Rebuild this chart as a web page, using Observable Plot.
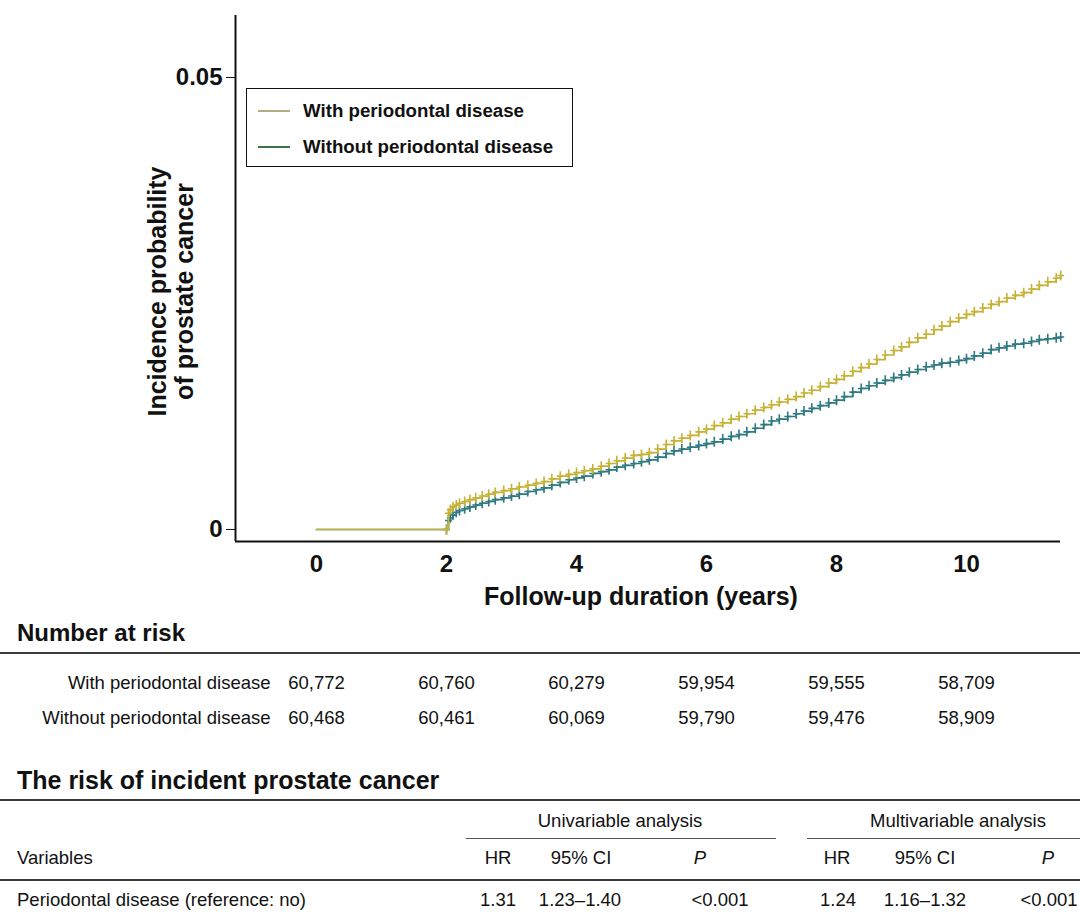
<!DOCTYPE html>
<html>
<head>
<meta charset="utf-8">
<script src="https://cdn.jsdelivr.net/npm/d3@7"></script>
<script src="https://cdn.jsdelivr.net/npm/@observablehq/plot@0.6"></script>
<style>
  html, body { margin: 0; padding: 0; background: #fff; }
  #wrap { position: relative; width: 1080px; height: 916px; overflow: hidden; font-family: "Liberation Sans", Arial, Helvetica, sans-serif; color: #111; }
  #main, #risk { position: absolute; left: 0; }
  #main { top: 0; }
  #risk { top: 660px; }
  .abs { position: absolute; white-space: nowrap; }
  .h2 { font-weight: bold; font-size: 24px; line-height: 24px; left: 17px; }
  .rule { position: absolute; left: 0; width: 1080px; height: 2px; background: #3a3a3a; }
  .thin { position: absolute; height: 1px; background: #555; }
  .cell { font-size: 18.5px; line-height: 22px; }
  .c { transform: translateX(-50%); }
  #legend { position: absolute; left: 246px; top: 88px; width: 325px; height: 77px; border: 1.6px solid #111; background: #fff; }
  #legend .row { position: absolute; left: 0; height: 22px; }
  #legend .sw { position: absolute; left: 11px; width: 32px; height: 2px; top: 10px; }
  #legend .lab { position: absolute; left: 56px; top: 0; font-weight: bold; font-size: 18.7px; line-height: 22px; white-space: nowrap; }
</style>
</head>
<body>
<div id="wrap">
  <div id="main"></div>
  <div id="legend"></div>
  <div id="riskTitle" class="abs h2" style="top:621px">Number at risk</div>
  <div class="rule" style="top:652px"></div>
  <div id="risk"></div>
  <div id="hrTitle" class="abs h2" style="top:768px; font-size:25px; line-height:25px">The risk of incident prostate cancer</div>
  <div class="rule" style="top:799px"></div>
  <div id="hr"></div>
</div>
<script>
// ---------------- data ----------------
const seriesNames = ["With periodontal disease", "Without periodontal disease"];
const curveColors = ["#c6b236", "#2f7a80"];
const legendColors = ["#b3ad84", "#3d7246"];

const withTimes = [0, 2.00, 2.03, 2.06, 2.10, 2.15, 2.20, 2.28, 2.36, 2.45, 2.55, 2.65, 2.75, 2.88, 3.00, 3.12, 3.25, 3.38, 3.50, 3.62, 3.75, 3.88, 4.00, 4.12, 4.25, 4.38, 4.50, 4.62, 4.75, 4.88, 5.00, 5.12, 5.25, 5.38, 5.50, 5.62, 5.75, 5.88, 6.00, 6.12, 6.25, 6.38, 6.50, 6.62, 6.75, 6.88, 7.00, 7.12, 7.25, 7.38, 7.50, 7.62, 7.75, 7.88, 8.00, 8.12, 8.25, 8.38, 8.50, 8.62, 8.75, 8.88, 9.00, 9.12, 9.25, 9.38, 9.50, 9.62, 9.75, 9.88, 10.00, 10.12, 10.25, 10.38, 10.50, 10.62, 10.75, 10.88, 11.00, 11.12, 11.25, 11.38, 11.45];
const withValues = [0, 0, 0.0018, 0.0022, 0.0025, 0.0027, 0.0029, 0.0031, 0.0033, 0.0035, 0.0037, 0.0039, 0.0041, 0.0043, 0.0045, 0.0047, 0.0049, 0.0051, 0.0053, 0.0056, 0.0059, 0.0061, 0.0063, 0.0065, 0.0067, 0.0070, 0.0073, 0.0076, 0.0079, 0.0082, 0.0083, 0.0085, 0.0089, 0.0094, 0.0098, 0.0101, 0.0104, 0.0108, 0.0111, 0.0115, 0.0118, 0.0122, 0.0125, 0.0128, 0.0132, 0.0135, 0.0138, 0.0141, 0.0144, 0.0147, 0.0151, 0.0154, 0.0158, 0.0162, 0.0166, 0.0170, 0.0175, 0.0179, 0.0183, 0.0188, 0.0193, 0.0198, 0.0202, 0.0207, 0.0212, 0.0216, 0.0221, 0.0225, 0.0230, 0.0234, 0.0238, 0.0241, 0.0245, 0.0249, 0.0252, 0.0256, 0.0259, 0.0262, 0.0266, 0.0270, 0.0274, 0.0278, 0.0281];

const withoutTimes = [0, 2.00, 2.03, 2.06, 2.10, 2.15, 2.20, 2.28, 2.36, 2.45, 2.55, 2.65, 2.75, 2.88, 3.00, 3.12, 3.25, 3.38, 3.50, 3.62, 3.75, 3.88, 4.00, 4.12, 4.25, 4.38, 4.50, 4.62, 4.75, 4.88, 5.00, 5.12, 5.25, 5.38, 5.50, 5.62, 5.75, 5.88, 6.00, 6.12, 6.25, 6.38, 6.50, 6.62, 6.75, 6.88, 7.00, 7.12, 7.25, 7.38, 7.50, 7.62, 7.75, 7.88, 8.00, 8.12, 8.25, 8.38, 8.50, 8.62, 8.75, 8.88, 9.00, 9.12, 9.25, 9.38, 9.50, 9.62, 9.75, 9.88, 10.00, 10.12, 10.25, 10.38, 10.50, 10.62, 10.75, 10.88, 11.00, 11.12, 11.25, 11.38, 11.45];
const withoutValues = [0, 0, 0.0010, 0.0013, 0.0016, 0.0019, 0.0021, 0.0023, 0.0025, 0.0027, 0.0029, 0.0031, 0.0033, 0.0035, 0.0037, 0.0039, 0.0042, 0.0044, 0.0046, 0.0049, 0.0052, 0.0055, 0.0057, 0.0059, 0.0062, 0.0064, 0.0066, 0.0069, 0.0071, 0.0073, 0.0075, 0.0077, 0.0080, 0.0084, 0.0087, 0.0089, 0.0091, 0.0093, 0.0095, 0.0097, 0.0100, 0.0103, 0.0105, 0.0108, 0.0112, 0.0116, 0.0120, 0.0122, 0.0125, 0.0128, 0.0131, 0.0134, 0.0137, 0.0140, 0.0143, 0.0147, 0.0152, 0.0156, 0.0159, 0.0162, 0.0165, 0.0168, 0.0171, 0.0174, 0.0177, 0.0180, 0.0182, 0.0184, 0.0185, 0.0187, 0.0189, 0.0192, 0.0195, 0.0199, 0.0201, 0.0203, 0.0205, 0.0206, 0.0208, 0.0210, 0.0211, 0.0212, 0.0213];

const xTicks = [0, 2, 4, 6, 8, 10];
const yTicks = [0, 0.05];
const yTickLabels = ["0", "0.05"];
const xLabel = "Follow-up duration (years)";
const yLabel = "Incidence probability\nof prostate cancer";

const riskTimes = [0, 2, 4, 6, 8, 10];
const riskWith = ["60,772", "60,760", "60,279", "59,954", "59,555", "58,709"];
const riskWithout = ["60,468", "60,461", "60,069", "59,790", "59,476", "58,909"];

const hrGroups = ["Univariable analysis", "Multivariable analysis"];
const hrHeaders = ["Variables", "HR", "95% CI", "P", "HR", "95% CI", "P"];
const hrRow = ["Periodontal disease (reference: no)", "1.31", "1.23\u20131.40", "<0.001", "1.24", "1.16\u20131.32", "<0.001"];

// ---------------- build ----------------
const font = '"Liberation Sans", Arial, Helvetica, sans-serif';
const xDomain = [-1.246, 11.446];
const yDomain = [-0.00133, 0.05686];

const curveData = [
  ...withTimes.map((t, i) => ({t, v: withValues[i], s: seriesNames[0]})),
  ...withoutTimes.map((t, i) => ({t, v: withoutValues[i], s: seriesNames[1]}))
];
const censorData = curveData.filter(d => d.t >= 2);

const plusSymbol = {
  draw(ctx) {
    ctx.moveTo(0, -5); ctx.lineTo(0, 5);
    ctx.moveTo(-3.4, 0); ctx.lineTo(3.4, 0);
  }
};

const colorScale = {domain: seriesNames, range: curveColors};

const main = Plot.plot({
  width: 1080,
  height: 615,
  marginLeft: 235,
  marginRight: 20,
  marginTop: 15,
  marginBottom: 74,
  style: {fontFamily: font, fontSize: "24px", fontWeight: "bold", color: "#111", background: "#fff", overflow: "visible"},
  x: {domain: xDomain, ticks: xTicks, tickSize: 0, tickPadding: 13, tickFormat: d => String(d), label: null},
  y: {domain: yDomain, ticks: yTicks, tickSize: 9, tickPadding: 4, tickFormat: d => yTickLabels[yTicks.indexOf(d)], label: null},
  color: colorScale,
  marks: [
    Plot.ruleX([xDomain[0]], {stroke: "#111", strokeWidth: 2}),
    Plot.ruleY([yDomain[0]], {stroke: "#111", strokeWidth: 2}),
    Plot.line(curveData.filter(d => d.s === seriesNames[1]), {x: "t", y: "v", stroke: "s", curve: "step-after", strokeWidth: 1.7}),
    Plot.dot(censorData.filter(d => d.s === seriesNames[1]), {x: "t", y: "v", stroke: "s", symbol: plusSymbol, fill: "none", strokeWidth: 1.6}),
    Plot.line(curveData.filter(d => d.s === seriesNames[0]), {x: "t", y: "v", stroke: "s", curve: "step-after", strokeWidth: 1.7}),
    Plot.dot(censorData.filter(d => d.s === seriesNames[0]), {x: "t", y: "v", stroke: "s", symbol: plusSymbol, fill: "none", strokeWidth: 1.6}),
    Plot.text([xLabel], {frameAnchor: "bottom", text: d => d, dy: 63, dx: -7, fontSize: 25, fontWeight: "bold", fill: "#111"}),
    Plot.text([yLabel], {frameAnchor: "left", text: d => d, rotate: -90, dx: -65, dy: 13, fontSize: 25, fontWeight: "bold", fill: "#111", lineHeight: 1.08, textAnchor: "middle"})
  ]
});
document.getElementById("main").appendChild(main);

// legend
const legend = document.getElementById("legend");
seriesNames.forEach((name, i) => {
  const row = document.createElement("div");
  row.className = "row";
  row.style.top = (11 + i * 36) + "px";
  row.innerHTML = `<div class="sw" style="background:${legendColors[i]}"></div><div class="lab">${name}</div>`;
  legend.appendChild(row);
});

// number at risk
const riskData = [
  ...riskTimes.map((t, i) => ({t, n: riskWith[i], s: seriesNames[0]})),
  ...riskTimes.map((t, i) => ({t, n: riskWithout[i], s: seriesNames[1]}))
];
const risk = Plot.plot({
  width: 1080,
  height: 80,
  marginLeft: 235,
  marginRight: 20,
  marginTop: 0,
  marginBottom: 0,
  style: {fontFamily: font, fontSize: "18.5px", color: "#111", background: "transparent", overflow: "visible"},
  x: {domain: xDomain, axis: null},
  y: {type: "point", domain: seriesNames, range: [23, 58], padding: 0, axis: null},
  marks: [
    Plot.text(riskData, {x: "t", y: "s", text: "n", fontSize: 18.5, fill: "#111"}),
    Plot.text(seriesNames, {y: d => d, text: d => d, frameAnchor: "left", dx: 35, textAnchor: "end", fontSize: 18.5, fill: "#111"})
  ]
});
document.getElementById("risk").appendChild(risk);

// HR table
const hr = document.getElementById("hr");
function cell(text, x, yCenter, opts = {}) {
  const el = document.createElement("div");
  el.className = "abs cell" + (opts.center ? " c" : "");
  el.style.left = x + "px";
  el.style.top = (yCenter - 11) + "px";
  if (opts.italic) el.style.fontStyle = "italic";
  el.textContent = text;
  hr.appendChild(el);
}
const groupCenters = [620, 958];
hrGroups.forEach((g, i) => cell(g, groupCenters[i], 821, {center: true}));
[[466, 310], [807, 273]].forEach(([l, w]) => {
  const el = document.createElement("div");
  el.className = "thin";
  el.style.left = l + "px"; el.style.width = w + "px"; el.style.top = "838px";
  hr.appendChild(el);
});
const headerX = [17, 498, 581, 700, 837, 925, 1048];
const rowX = [17, 498, 580, 720, 838, 925, 1049];
hrHeaders.forEach((h, i) => cell(h, headerX[i], 858, {center: i > 0, italic: h === "P"}));
const r3 = document.createElement("div");
r3.className = "rule"; r3.style.top = "879px";
hr.appendChild(r3);
hrRow.forEach((v, i) => cell(v, rowX[i], 900, {center: i > 0}));
</script>
</body>
</html>
